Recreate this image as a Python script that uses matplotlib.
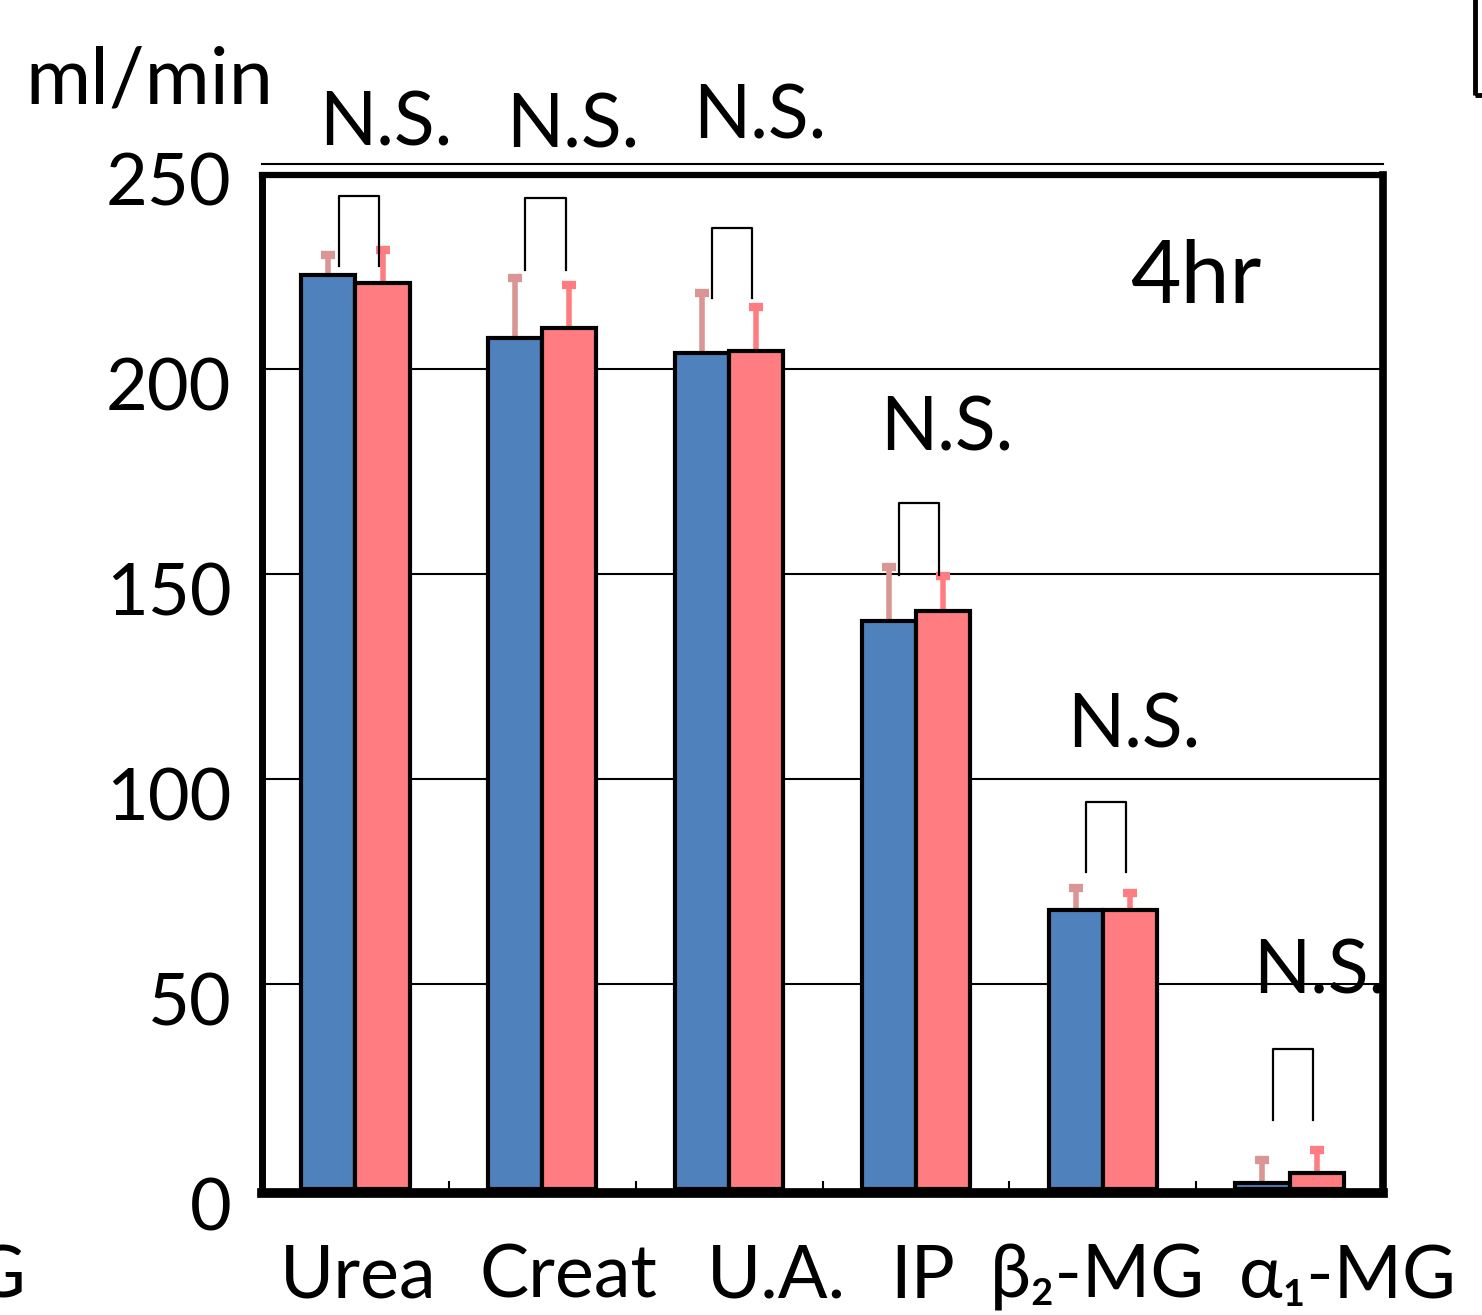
import numpy as np
import matplotlib
matplotlib.use('Agg')
import matplotlib.pyplot as plt
from matplotlib.transforms import ScaledTranslation
from matplotlib.patches import Rectangle

plt.rcParams['font.family'] = ['Lato', 'DejaVu Sans']

# data (ml/min, 4hr)
categories = ['Urea', 'Creat', 'U.A.', 'IP', 'β₂-MG', 'α₁-MG']
blue_vals = [223.0, 207.5, 204.0, 138.5, 68.0, 1.5]
red_vals = [221.0, 210.0, 204.5, 141.0, 68.0, 4.0]
blue_err = [4.7, 14.7, 14.5, 13.2, 5.4, 5.5]
red_err = [8.0, 10.5, 10.5, 8.6, 4.2, 5.5]
# significance brackets (bottom / top of bracket, baseline of label)
bracket_bottom = [225.1, 224.1, 217.3, 149.8, 77.3, 16.8]
bracket_top = [242.2, 241.7, 234.4, 167.3, 94.4, 34.1]
ns_text = ['N.S.'] * 6
ns_y = [254.6, 253.9, 256.3, 180.2, 107.6, 47.6]
y_ticks = [0, 50, 100, 150, 200, 250]

# layout
label_left = [-0.404, 0.662, 1.882, 2.862, 3.397, 4.730]
w = 0.29
blue_c = '#4F81BD'
red_c = '#FF7C80'
blue_ec = '#D99694'
red_ec = '#FF7C80'

fig = plt.figure(figsize=(14.82, 13.15), dpi=100)
ax = fig.add_axes([0.17679, 0.09582, 0.75641, 0.7826])

x = np.arange(len(categories))
ax.bar(x - w / 2, blue_vals, w, color=blue_c, edgecolor='black', linewidth=3, zorder=3)
ax.bar(x + w / 2, red_vals, w, color=red_c, edgecolor='black', linewidth=3, zorder=3)

zeros = np.zeros(len(categories))
for xs, vals, errs, ec in [(x - w / 2, blue_vals, blue_err, blue_ec),
                           (x + w / 2, red_vals, red_err, red_ec)]:
    _, caps, _ = ax.errorbar(xs, vals, yerr=[zeros, errs], fmt='none', ecolor=ec,
                             elinewidth=4, capsize=5, capthick=6, zorder=2)
    for c in caps:
        if np.allclose(c.get_ydata(), vals):
            c.set_visible(False)

# brackets + N.S.
for i in range(len(categories)):
    l, r = x[i] - 0.09, x[i] + 0.125
    ax.plot([l, l, r, r], [bracket_bottom[i], bracket_top[i], bracket_top[i], bracket_bottom[i]],
            color='black', lw=1.6, zorder=4, clip_on=False)
    ax.text(x[i] + 0.164, ns_y[i], ns_text[i], ha='center', va='baseline', fontsize=54, zorder=2)

ax.set_xlim(-0.5, 5.5)
ax.set_ylim(0, 251)

# grid
for yv in y_ticks[1:-1]:
    ax.axhline(yv, color='black', lw=1.5, zorder=1)
ax.axhline(250, color='black', lw=1.5, zorder=1, clip_on=False)

# frame
ax.spines['top'].set_visible(False)
ax.plot([-0.5, 5.5], [247.3, 247.3], color='black', lw=4.5, zorder=5,
        clip_on=False, solid_capstyle='projecting')
ax.spines['left'].set_linewidth(5)
ax.spines['right'].set_linewidth(5.5)
ax.spines['bottom'].set_linewidth(7)
ax.spines['left'].set_bounds(0, 247.3)
ax.spines['right'].set_bounds(0, 247.3)
ax.spines['bottom'].set_position(('outward', 3))
for s in ax.spines.values():
    s.set_zorder(5)

# y ticks
ax.set_yticks(y_ticks, labels=[str(v) for v in y_ticks])
ax.tick_params(axis='y', length=0, pad=22, labelsize=52)
off = ScaledTranslation(0, -0.15, fig.dpi_scale_trans)
for t in ax.yaxis.get_major_ticks():
    t.label1.set_transform(t.label1.get_transform() + off)

# x ticks: small inward marks between groups
ax.set_xticks([])
ax.set_xticks(np.arange(0.5, 5.0, 1.0), minor=True)
ax.tick_params(axis='x', which='minor', direction='in', length=9, width=1.5,
               labelbottom=False)

for i, lab in enumerate(categories):
    ax.text(label_left[i], -26.5, lab, ha='left', va='baseline', fontsize=53, clip_on=False)

ax.text(4.147, 216, '4hr', ha='left', va='baseline', fontsize=63)
fig.text(25 / 1482, 1 - 103 / 1315, 'ml/min', ha='left', va='baseline', fontsize=57)

# fragments of the neighbouring panel
fig.text(25 / 1482, 1 - 1297 / 1315, 'G', ha='right', va='baseline', fontsize=52)
fig.patches.append(Rectangle((1474.5 / 1482, 1 - 95 / 1315), 0.05, 0.1,
                             transform=fig.transFigure, fill=False, lw=3.5,
                             edgecolor='black'))

fig.savefig('out.png', dpi=100)
